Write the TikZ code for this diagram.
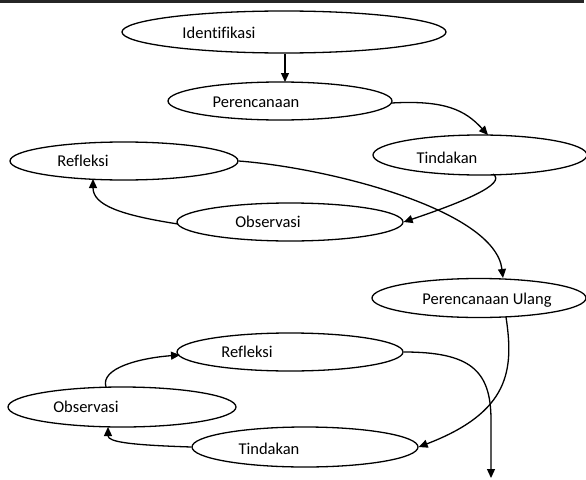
\documentclass[tikz,border=0pt]{standalone}
\usepackage{fontspec}
\setmainfont[Ligatures=NoCommon]{Carlito}
\usetikzlibrary{shapes.geometric,arrows.meta,calc}
\tikzset{
  ell/.style={draw=black,line width=1.3pt,ellipse,inner sep=0pt,fill=white},
  lbl/.style={font=\fontsize{16.5}{18}\selectfont,inner sep=0pt},
  conn/.style={line width=1.3pt,-{Triangle[length=9pt,width=8pt]}}
}
\begin{document}
\begin{tikzpicture}[x=1pt,y=-1pt]
\useasboundingbox (0,0) rectangle (586,479);
\fill[black!85] (0,0) rectangle (584,2.5);
% ellipses
\node[ell,minimum width=324pt,minimum height=42pt] (id) at (284,32) {};
\node[ell,minimum width=224pt,minimum height=38pt] (per) at (280,101) {};
\node[ell,minimum width=214pt,minimum height=40pt] (tin1) at (480,155) {};
\node[ell,minimum width=228pt,minimum height=38pt] (ref1) at (124,161) {};
\node[ell,minimum width=226pt,minimum height=38pt] (obs1) at (290,222) {};
\node[ell,minimum width=214pt,minimum height=39pt] (pu) at (479,298) {};
\node[ell,minimum width=226pt,minimum height=38pt] (ref2) at (290,352) {};
\node[ell,minimum width=228pt,minimum height=40pt] (obs2) at (122,407) {};
\node[ell,minimum width=226pt,minimum height=40pt] (tin2) at (305,447) {};
% labels
\node[lbl] (tid) at (219,33) {Identifikasi};
\node[lbl] (tper) at (256,102) {Perencanaan};
\node[lbl] (ttin1) at (447,158) {Tindakan};
\node[lbl] (tref1) at (83,161) {Refleksi};
\node[lbl] (tobs1) at (268,222) {Observasi};
\node[lbl] (tpu) at (487,300) {Perencanaan Ulang};
\node[lbl] (tref2) at (247,352) {Refleksi};
\node[lbl] (tobs2) at (86,407) {Observasi};
\node[lbl] (ttin2) at (269,449) {Tindakan};
% coordinates
\coordinate (a1) at ($(per.east)+(-1,2)$);
\coordinate (a2) at (488,135);
\coordinate (b1) at (493,174);
\coordinate (c1) at (178,224);
\coordinate (c2) at (93,179);
\coordinate (d2) at (503,278);
\coordinate (e1) at (506,317);
\coordinate (f2) at (108,427);
\coordinate (g1) at (106,387);
\coordinate (g2) at (180,355);
\coordinate (h2) at (491,478);
% connectors
\draw[conn] (id.south -| 285,0) -- (285,82);
\draw[conn] (a1) .. controls (445,100) and (465,110) .. (a2);
\draw[conn] (b1) .. controls (508,184) and (460,203) .. (obs1.east);
\draw[conn] (c1) .. controls (120,215) and (93,205) .. (c2);
\draw[conn] (ref1.east) .. controls (330,168) and (495,210) .. (d2);
\draw[conn] (e1) .. controls (514,370) and (510,412) .. (tin2.east);
\draw[conn] (tin2.west) .. controls (130,445) and (108,442) .. (f2);
\draw[conn] (g1) .. controls (100,368) and (140,358) .. (g2);
\draw[conn] (ref2.east) .. controls (470,352) and (491,370) .. (491,420) -- (h2);
\end{tikzpicture}
\end{document}
